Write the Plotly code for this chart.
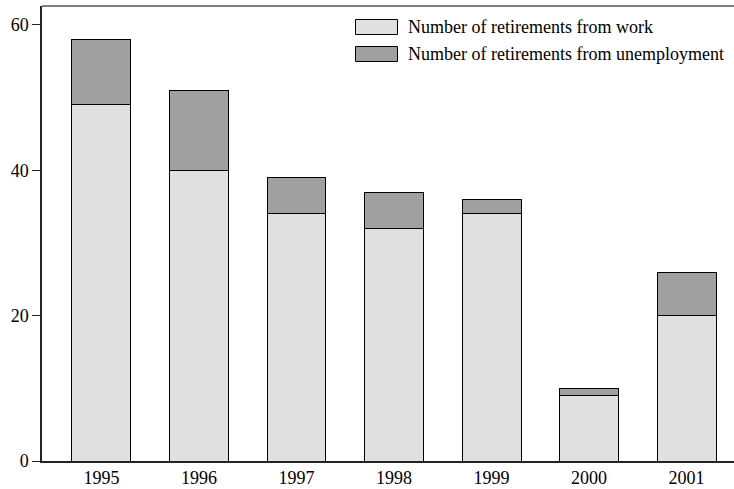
import plotly.graph_objects as go

years = ["1995", "1996", "1997", "1998", "1999", "2000", "2001"]
from_work = [49, 40, 34, 32, 34, 9, 20]
from_unemployment = [9, 11, 5, 5, 2, 1, 6]
series_names = ["Number of retirements from work", "Number of retirements from unemployment"]
y_ticks = [0, 20, 40, 60]

W, H = 734, 489
ML, MR, MT, MB = 42, 0, 6, 28
FONT = "Liberation Serif"
FS = 18
light = "#e0e0e0"
dark = "#a0a0a0"

fig = go.Figure()
fig.add_trace(go.Bar(x=years, y=from_work, name=series_names[0], marker=dict(color=light, line=dict(color="black", width=1)), width=0.605))
fig.add_trace(go.Bar(x=years, y=from_unemployment, name=series_names[1], marker=dict(color=dark, line=dict(color="black", width=1)), width=0.605))

pw = W - ML - MR
ph = H - MT - MB
def px2x(px):
    return (px - ML) / pw
def px2y(py):
    return 1 - (py - MT) / ph

shapes = [dict(type="line", xref="paper", yref="paper", x0=0, x1=1.05, y0=1, y1=1,
               line=dict(color="#555555", width=1.5))]
annotations = []
centers = [27, 54]
for i, (name, col) in enumerate(zip(series_names, [light, dark])):
    cy = centers[i]
    shapes.append(dict(type="rect", xref="paper", yref="paper",
                       x0=px2x(355.5), x1=px2x(397.5), y0=px2y(cy - 7.5), y1=px2y(cy + 7.5),
                       fillcolor=col, line=dict(color="black", width=1)))
    annotations.append(dict(xref="paper", yref="paper", x=px2x(406), y=px2y(cy),
                            xanchor="left", yanchor="middle", text=name, showarrow=False,
                            font=dict(family=FONT, size=FS, color="black")))

fig.update_layout(
    barmode="stack",
    width=W, height=H,
    margin=dict(l=ML, r=MR, t=MT, b=MB, pad=0),
    plot_bgcolor="white", paper_bgcolor="white",
    showlegend=False,
    font=dict(family=FONT, size=FS, color="black"),
    shapes=shapes, annotations=annotations,
    xaxis=dict(range=[-0.61, 6.487], showline=True, linecolor="#222222", linewidth=1.5, mirror=False,
               ticks="", showgrid=False, zeroline=False, tickfont=dict(family=FONT, size=FS)),
    yaxis=dict(range=[0, 62.6], tickvals=y_ticks, showline=True, linecolor="#222222", linewidth=1.5,
               ticks="outside", ticklen=8, tickcolor="#222222", showgrid=False, zeroline=False,
               tickfont=dict(family=FONT, size=FS)),
)
fig.write_html("out.html", config={"displayModeBar": False},
               post_script="document.body.style.margin='0';document.body.style.overflow='hidden';")
